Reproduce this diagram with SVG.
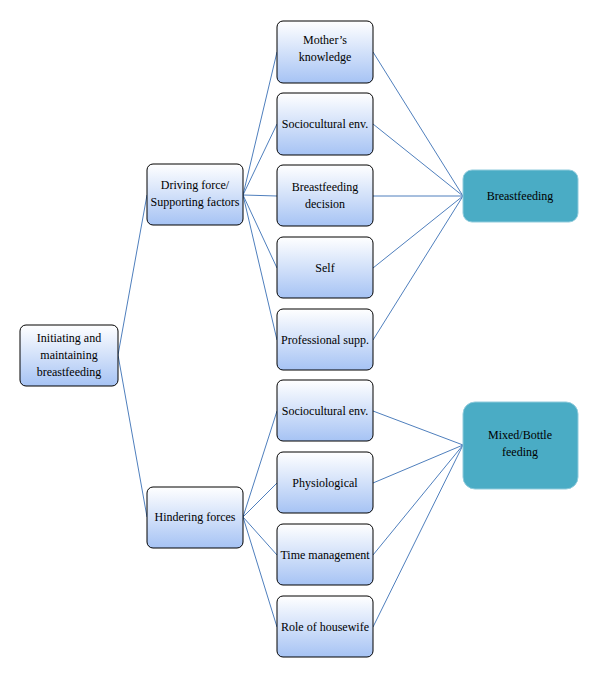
<svg xmlns="http://www.w3.org/2000/svg" width="600" height="676" viewBox="0 0 600 676">
<defs>
<linearGradient id="g" x1="0" y1="0" x2="0" y2="1">
<stop offset="0" stop-color="#ffffff"/>
<stop offset="1" stop-color="#a6c3f4"/>
</linearGradient>
<style>
.n{fill:url(#g);stroke:#000;stroke-width:1}
.o{fill:#4aacc5;stroke:#8fcbdc;stroke-width:1}
.t{font-family:"Liberation Serif",serif;font-size:12px;fill:#000;text-anchor:middle}
.c line{stroke:#4f7fbd;stroke-width:1}
</style>
</defs>
<rect width="600" height="676" fill="#fff"/>
<g class="c" id="connectors">
<line x1="118" y1="355" x2="147" y2="195"/>
<line x1="118" y1="355" x2="147" y2="517"/>
<line x1="243" y1="195" x2="277" y2="52"/>
<line x1="243" y1="195" x2="277" y2="124"/>
<line x1="243" y1="195" x2="277" y2="196"/>
<line x1="243" y1="195" x2="277" y2="268"/>
<line x1="243" y1="195" x2="277" y2="340"/>
<line x1="243" y1="517" x2="277" y2="411"/>
<line x1="243" y1="517" x2="277" y2="483"/>
<line x1="243" y1="517" x2="277" y2="555"/>
<line x1="243" y1="517" x2="277" y2="627"/>
<line x1="373" y1="52" x2="463" y2="196"/>
<line x1="373" y1="124" x2="463" y2="196"/>
<line x1="373" y1="196" x2="463" y2="196"/>
<line x1="373" y1="268" x2="463" y2="196"/>
<line x1="373" y1="340" x2="463" y2="196"/>
<line x1="373" y1="411" x2="463" y2="445"/>
<line x1="373" y1="483" x2="463" y2="445"/>
<line x1="373" y1="555" x2="463" y2="445"/>
<line x1="373" y1="627" x2="463" y2="445"/>
</g>
<g id="root"><rect class="n" x="20" y="325" width="98" height="61" rx="6"/>
<text class="t" x="69" y="342">Initiating and</text><text class="t" x="69" y="359">maintaining</text><text class="t" x="69" y="376">breastfeeding</text></g>
<g id="driving"><rect class="n" x="147" y="164" width="96" height="61" rx="6"/>
<text class="t" x="195" y="189">Driving force/</text><text class="t" x="195" y="206">Supporting factors</text></g>
<g id="hindering"><rect class="n" x="147" y="487" width="96" height="61" rx="6"/>
<text class="t" x="195" y="521">Hindering forces</text></g>
<g id="mother"><rect class="n" x="277" y="21" width="96" height="62" rx="6"/>
<text class="t" x="325" y="44">Mother’s</text><text class="t" x="325" y="61">knowledge</text></g>
<g id="socio1"><rect class="n" x="277" y="93" width="96" height="62" rx="6"/>
<text class="t" x="325" y="128">Sociocultural env.</text></g>
<g id="decision"><rect class="n" x="277" y="165" width="96" height="61" rx="6"/>
<text class="t" x="325" y="191">Breastfeeding</text><text class="t" x="325" y="208">decision</text></g>
<g id="self"><rect class="n" x="277" y="237" width="96" height="61" rx="6"/>
<text class="t" x="325" y="272">Self</text></g>
<g id="prof"><rect class="n" x="277" y="309" width="96" height="61" rx="6"/>
<text class="t" x="325" y="344">Professional supp.</text></g>
<g id="socio2"><rect class="n" x="277" y="380" width="96" height="61" rx="6"/>
<text class="t" x="325" y="415">Sociocultural env.</text></g>
<g id="physio"><rect class="n" x="277" y="452" width="96" height="61" rx="6"/>
<text class="t" x="325" y="487">Physiological</text></g>
<g id="time"><rect class="n" x="277" y="524" width="96" height="61" rx="6"/>
<text class="t" x="325" y="559">Time management</text></g>
<g id="role"><rect class="n" x="277" y="596" width="96" height="61" rx="6"/>
<text class="t" x="325" y="631">Role of housewife</text></g>
<g id="bf"><rect class="o" x="463" y="170" width="115" height="52" rx="9"/>
<text class="t" x="520" y="200">Breastfeeding</text></g>
<g id="mixed"><rect class="o" x="463" y="402" width="115" height="87" rx="12"/>
<text class="t" x="520" y="439">Mixed/Bottle</text><text class="t" x="520" y="456">feeding</text></g>
</svg>
